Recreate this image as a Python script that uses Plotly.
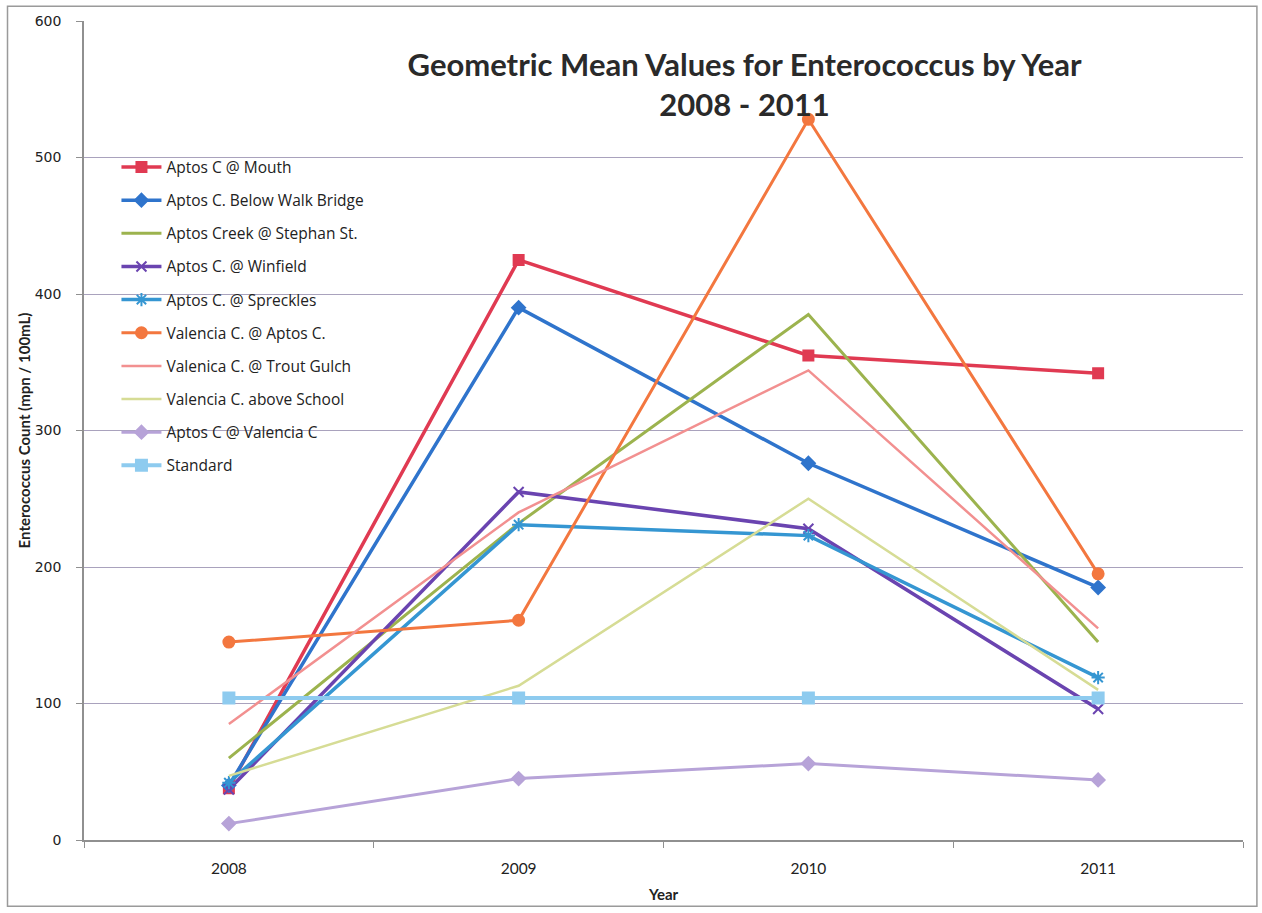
import plotly.graph_objects as go

years = ["2008", "2009", "2010", "2011"]

mouth = [38, 425, 355, 342]
walk_bridge = [40, 390, 276, 185]
stephan = [60, 232, 385, 145]
winfield = [37, 255, 228, 96]
spreckles = [42, 231, 223, 119]
valencia_aptos = [145, 161, 528, 195]
trout_gulch = [85, 240, 344, 155]
above_school = [47, 113, 250, 110]
aptos_valencia = [12, 45, 56, 44]
standard = [104, 104, 104, 104]

y_ticks = [0, 100, 200, 300, 400, 500, 600]

series = [
    ("Aptos C @ Mouth", mouth, "#e03a52", "square", 10, 3.5),
    ("Aptos C. Below Walk Bridge", walk_bridge, "#2f74cc", "diamond", 10, 3.5),
    ("Aptos Creek @ Stephan St.", stephan, "#9cb34e", None, 0, 3),
    ("Aptos C. @ Winfield", winfield, "#6a44b0", "x-thin-open", 10, 3.5),
    ("Aptos C. @ Spreckles", spreckles, "#3596d2", "asterisk-open", 11, 3.5),
    ("Valencia C. @ Aptos C.", valencia_aptos, "#f3773f", "circle", 11, 3),
    ("Valenica C. @ Trout Gulch", trout_gulch, "#f29090", None, 0, 2.5),
    ("Valencia C. above School", above_school, "#d6dc95", None, 0, 2.5),
    ("Aptos C @ Valencia C", aptos_valencia, "#b7a3d8", "diamond", 10, 3),
    ("Standard", standard, "#8ecbef", "square", 11, 4),
]

fig = go.Figure()
for i, (name, vals, color, sym, size, width) in enumerate(series):
    if sym is None:
        mode = "lines"
        marker = None
    else:
        mode = "lines+markers"
        marker = dict(symbol=sym, size=size, color=color,
                      line=dict(color=color, width=2))
    fig.add_trace(go.Scatter(
        x=years, y=vals, name=name, mode=mode,
        line=dict(color=color, width=width),
        marker=marker, legendgroup="g%d" % i,
    ))

fig.update_layout(
    width=1262, height=913,
    paper_bgcolor="white", plot_bgcolor="white",
    margin=dict(l=84, r=19, t=21, b=70),
    title=dict(
        text="Geometric Mean Values for Enterococcus by Year<br>2008 - 2011",
        x=0.59, xanchor="center", y=0.917, yanchor="top",
        font=dict(family="Lato", size=31, color="#2a2a2a", weight="bold"),
    ),
    legend=dict(
        x=0.028, y=0.842, xanchor="left", yanchor="top",
        bgcolor="rgba(0,0,0,0)", font=dict(family="Open Sans", size=15.5, color="#222"),
        tracegroupgap=10, itemwidth=40,
    ),
    showlegend=True,
    font=dict(family="Lato", color="#222"),
)

fig.update_xaxes(
    type="category", range=[-0.5, 3.5], showgrid=False,
    showline=True, linecolor="#909090", linewidth=1.5,
    ticks="outside", ticklen=6, tickcolor="#909090", tickson="boundaries",
    ticklabelstandoff=14,
    tickfont=dict(family="Lato", size=15.5, color="#222"),
    title=dict(text="<b>Year</b>", font=dict(family="Lato", size=15, color="#222"), standoff=13),
)
fig.update_yaxes(
    range=[0, 600], tickvals=y_ticks,
    showgrid=True, gridcolor="#a9a2bd", gridwidth=1,
    showline=True, linecolor="#909090", linewidth=1.5,
    ticks="outside", ticklen=6, tickcolor="#909090",
    ticklabelstandoff=12,
    tickfont=dict(family="DejaVu Sans", size=14, color="#222"),
    title=dict(text="<b>Enterococcus Count (mpn / 100mL)</b>",
               font=dict(family="Lato", size=15, color="#222"), standoff=0),
)

fig.add_shape(type="rect", xref="paper", yref="paper",
              x0=-0.066, x1=1.012, y0=-0.081, y1=1.018,
              line=dict(color="#9a9a9a", width=1.5))

fig.write_html("out.html")
